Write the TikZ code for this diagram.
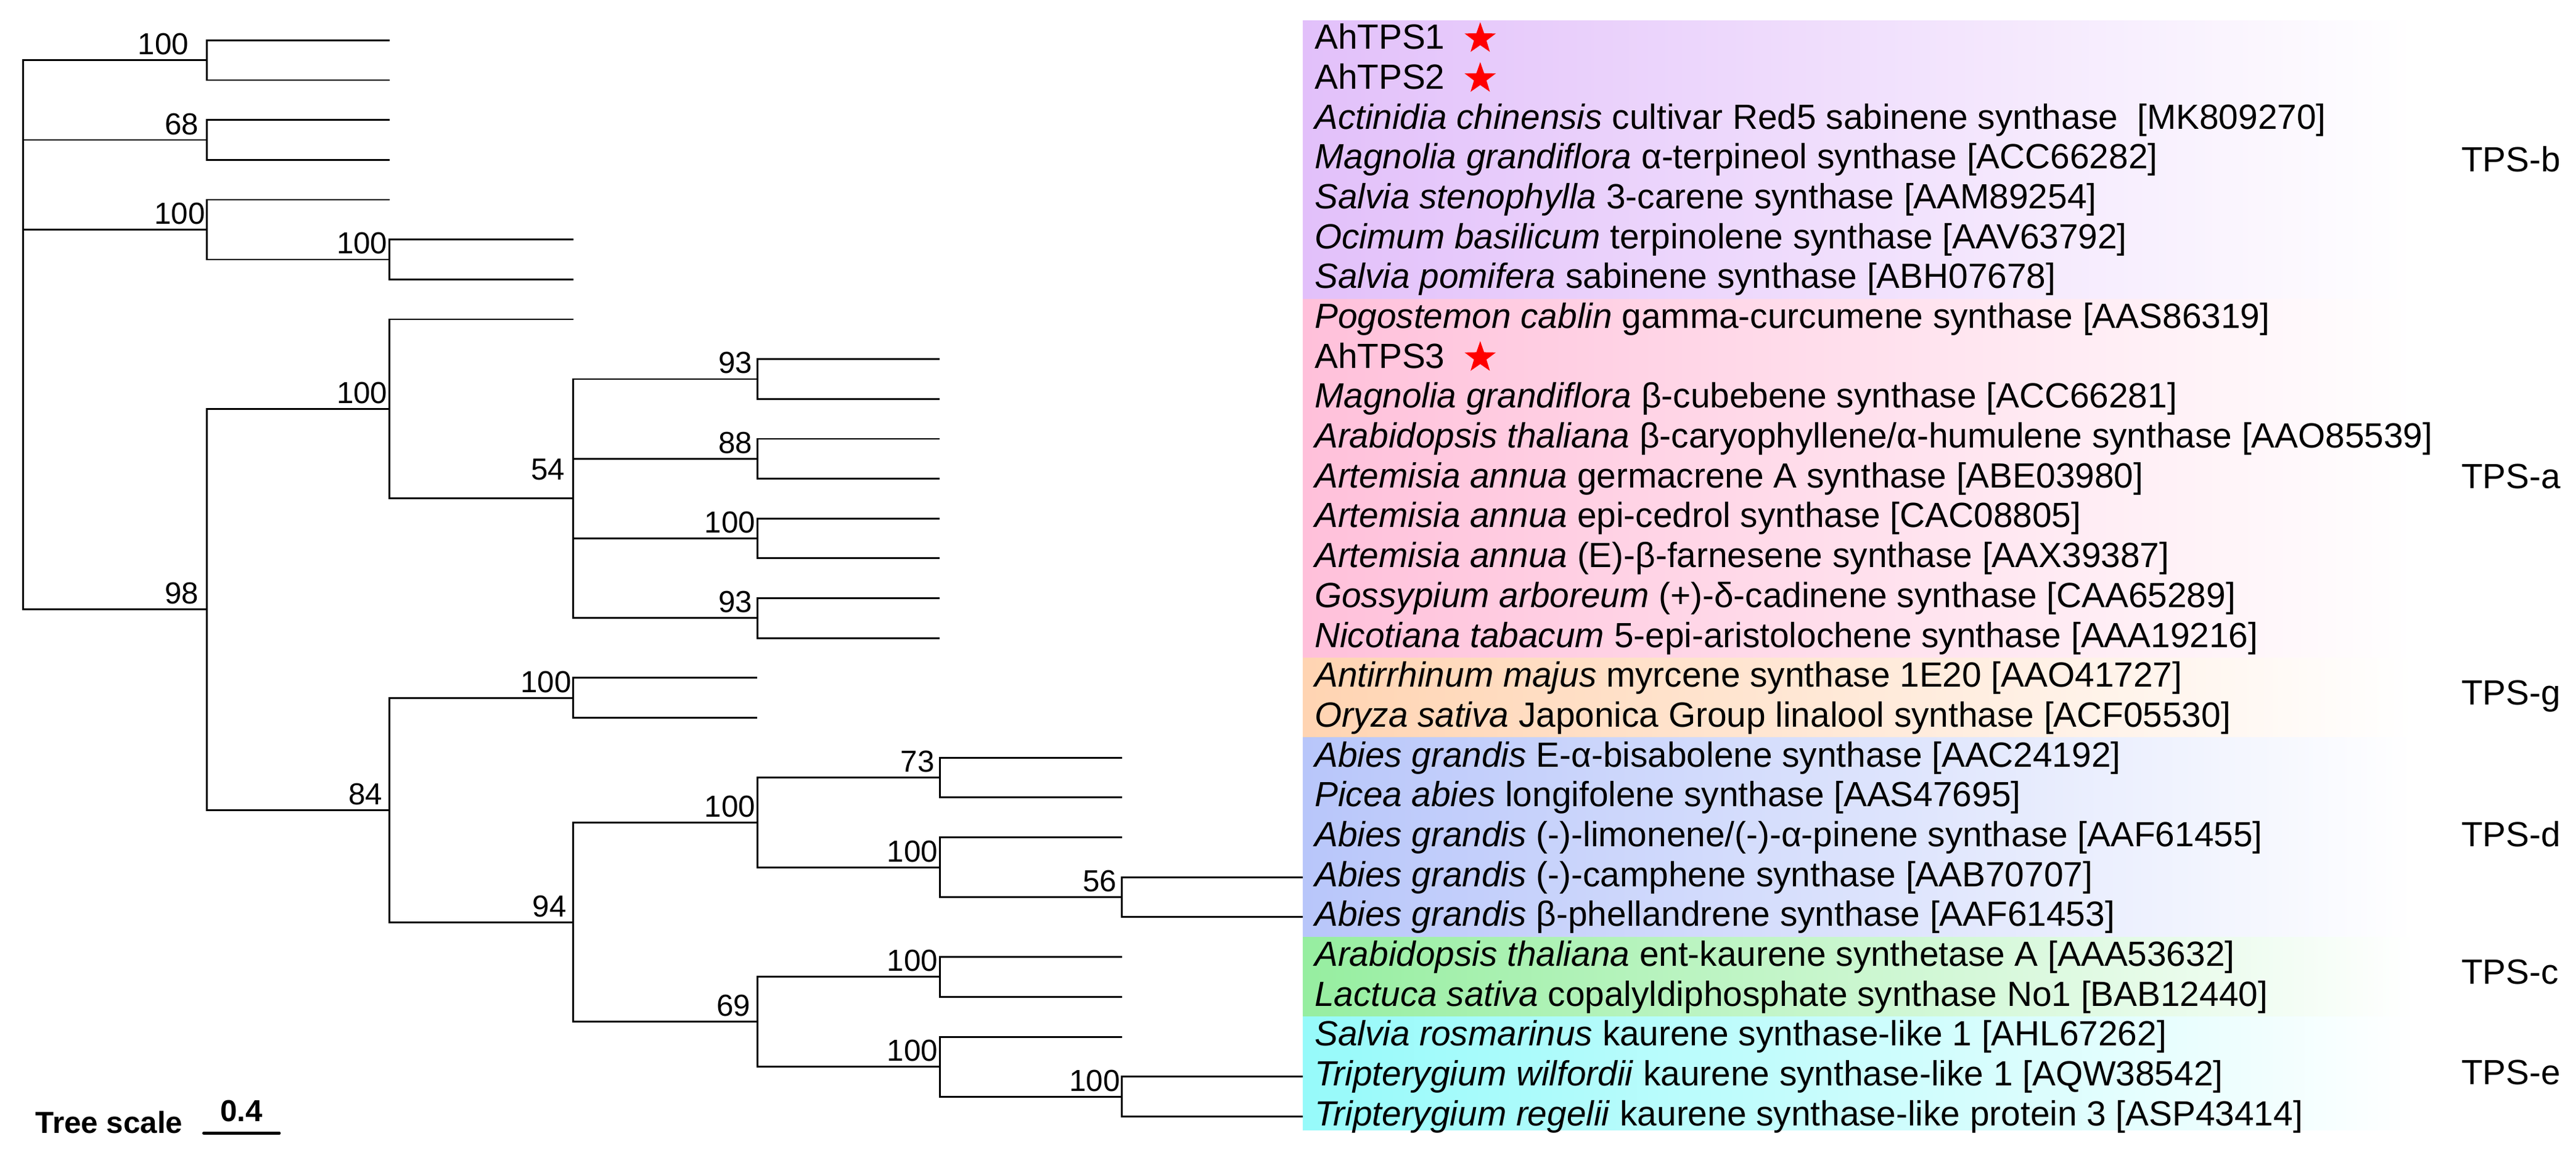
\documentclass[tikz,border=0pt]{standalone}
\usepackage{fontspec}
\setmainfont{Liberation Sans}
\usetikzlibrary{shapes.geometric}
\definecolor{cB}{RGB}{226,192,250}
\definecolor{cA}{RGB}{255,192,218}
\definecolor{cG}{RGB}{255,212,178}
\definecolor{cD}{RGB}{184,198,250}
\definecolor{cC}{RGB}{150,238,160}
\definecolor{cE}{RGB}{150,250,250}
\begin{document}
\begin{tikzpicture}[x=1pt,y=-1pt,
  br/.style={line width=1.1pt},
  leaf/.style={anchor=west,inner sep=0pt,font=\fontsize{21.3}{24}\selectfont,text height=15pt,text depth=4pt},
  bs/.style={anchor=south east,inner sep=0pt,font=\fontsize{18.5}{20}\selectfont,xshift=-1pt,yshift=3pt},
  grp/.style={anchor=west,inner sep=0pt,font=\fontsize{21.3}{24}\selectfont},
  redstar/.style={star,star points=5,star point ratio=2.5,fill=red,draw=none,minimum size=20pt,inner sep=0pt}]
\useasboundingbox (0,0) rectangle (1568,706);
% backgrounds
\shade[left color=cB,right color=white] (793,12.6) rectangle (1470,182.3);
\shade[left color=cA,right color=white] (793,182.3) rectangle (1470,400.7);
\shade[left color=cG,right color=white] (793,400.7) rectangle (1470,449.2);
\shade[left color=cD,right color=white] (793,449.2) rectangle (1470,570.6);
\shade[left color=cC,right color=white] (793,570.6) rectangle (1470,619.1);
\shade[left color=cE,right color=white] (793,619.1) rectangle (1470,688);
% leaf ends
\coordinate (L0) at (237,24.5);
\coordinate (L1) at (237,48.8);
\coordinate (L2) at (237,73.0);
\coordinate (L3) at (237,97.3);
\coordinate (L4) at (237,121.6);
\coordinate (L5) at (349,145.9);
\coordinate (L6) at (349,170.1);
\coordinate (L7) at (349,194.4);
\coordinate (L8) at (572,218.7);
\coordinate (L9) at (572,242.9);
\coordinate (L10) at (572,267.2);
\coordinate (L11) at (572,291.5);
\coordinate (L12) at (572,315.7);
\coordinate (L13) at (572,340.0);
\coordinate (L14) at (572,364.3);
\coordinate (L15) at (572,388.6);
\coordinate (L16) at (461,412.8);
\coordinate (L17) at (461,437.1);
\coordinate (L18) at (683,461.4);
\coordinate (L19) at (683,485.6);
\coordinate (L20) at (683,509.9);
\coordinate (L21) at (793,534.2);
\coordinate (L22) at (793,558.4);
\coordinate (L23) at (683,582.7);
\coordinate (L24) at (683,607.0);
\coordinate (L25) at (683,631.3);
\coordinate (L26) at (793,655.5);
\coordinate (L27) at (793,679.8);
% internal nodes
\coordinate (n01) at (126,36.6);
\coordinate (n23) at (126,85.2);
\coordinate (n56) at (237,158.0);
\coordinate (n456) at (126,139.8);
\coordinate (n89) at (461,230.8);
\coordinate (n1011) at (461,279.3);
\coordinate (n1213) at (461,327.9);
\coordinate (n1415) at (461,376.4);
\coordinate (n54) at (349,303.6);
\coordinate (na) at (237,249.0);
\coordinate (n1617) at (349,425.0);
\coordinate (n1819) at (572,473.5);
\coordinate (n2122) at (683,546.3);
\coordinate (n202122) at (572,528.1);
\coordinate (nd) at (461,500.8);
\coordinate (n2324) at (572,594.8);
\coordinate (n2627) at (683,667.7);
\coordinate (n252627) at (572,649.5);
\coordinate (n69) at (461,622.2);
\coordinate (n94) at (349,561.5);
\coordinate (n84) at (237,493.2);
\coordinate (n98) at (126,371.1);
\coordinate (root) at (14,203.9);
% branches
\draw[br] (root) |- (n01); \draw[br] (root) |- (n23); \draw[br] (root) |- (n456); \draw[br] (root) |- (n98);
\draw[br] (n01) |- (L0); \draw[br] (n01) |- (L1);
\draw[br] (n23) |- (L2); \draw[br] (n23) |- (L3);
\draw[br] (n456) |- (L4); \draw[br] (n456) |- (n56);
\draw[br] (n56) |- (L5); \draw[br] (n56) |- (L6);
\draw[br] (n98) |- (na); \draw[br] (n98) |- (n84);
\draw[br] (na) |- (L7); \draw[br] (na) |- (n54);
\draw[br] (n54) |- (n89); \draw[br] (n54) |- (n1011); \draw[br] (n54) |- (n1213); \draw[br] (n54) |- (n1415);
\draw[br] (n89) |- (L8); \draw[br] (n89) |- (L9);
\draw[br] (n1011) |- (L10); \draw[br] (n1011) |- (L11);
\draw[br] (n1213) |- (L12); \draw[br] (n1213) |- (L13);
\draw[br] (n1415) |- (L14); \draw[br] (n1415) |- (L15);
\draw[br] (n84) |- (n1617); \draw[br] (n84) |- (n94);
\draw[br] (n1617) |- (L16); \draw[br] (n1617) |- (L17);
\draw[br] (n94) |- (nd); \draw[br] (n94) |- (n69);
\draw[br] (nd) |- (n1819); \draw[br] (nd) |- (n202122);
\draw[br] (n1819) |- (L18); \draw[br] (n1819) |- (L19);
\draw[br] (n202122) |- (L20); \draw[br] (n202122) |- (n2122);
\draw[br] (n2122) |- (L21); \draw[br] (n2122) |- (L22);
\draw[br] (n69) |- (n2324); \draw[br] (n69) |- (n252627);
\draw[br] (n2324) |- (L23); \draw[br] (n2324) |- (L24);
\draw[br] (n252627) |- (L25); \draw[br] (n252627) |- (n2627);
\draw[br] (n2627) |- (L26); \draw[br] (n2627) |- (L27);
% bootstrap
\node[bs,xshift=-10pt] (b1) at (n01) {100};
\node[bs,xshift=-4pt] (b2) at (n23) {68};
\node[bs] (b3) at (n456) {100};
\node[bs] (b4) at (n56) {100};
\node[bs] (b5) at (na) {100};
\node[bs,xshift=-4pt,yshift=8pt] (b6) at (n54) {54};
\node[bs,xshift=-2pt] (b7) at (n89) {93};
\node[bs,xshift=-2pt] (b8) at (n1011) {88};
\node[bs] (b9) at (n1213) {100};
\node[bs,xshift=-2pt] (b10) at (n1415) {93};
\node[bs,xshift=-4pt] (b11) at (n98) {98};
\node[bs] (b12) at (n1617) {100};
\node[bs,xshift=-3pt] (b13) at (n84) {84};
\node[bs,xshift=-3pt] (b14) at (n94) {94};
\node[bs] (b15) at (nd) {100};
\node[bs,xshift=-2pt] (b16) at (n1819) {73};
\node[bs] (b17) at (n202122) {100};
\node[bs,xshift=-2pt] (b18) at (n2122) {56};
\node[bs,xshift=-3pt] (b19) at (n69) {69};
\node[bs] (b20) at (n2324) {100};
\node[bs] (b21) at (n252627) {100};
\node[bs] (b22) at (n2627) {100};
% leaf labels
\node[leaf] (t0) at (800,24.5) {AhTPS1};
\node[leaf] (t1) at (800,48.8) {AhTPS2};
\node[leaf] (t2) at (800,73.0) {\textit{Actinidia chinensis} cultivar Red5 sabinene synthase\ \ [MK809270]};
\node[leaf] (t3) at (800,97.3) {\textit{Magnolia grandiflora} α-terpineol synthase [ACC66282]};
\node[leaf] (t4) at (800,121.6) {\textit{Salvia stenophylla} 3-carene synthase [AAM89254]};
\node[leaf] (t5) at (800,145.9) {\textit{Ocimum basilicum} terpinolene synthase [AAV63792]};
\node[leaf] (t6) at (800,170.1) {\textit{Salvia pomifera} sabinene synthase [ABH07678]};
\node[leaf] (t7) at (800,194.4) {\textit{Pogostemon cablin} gamma-curcumene synthase [AAS86319]};
\node[leaf] (t8) at (800,218.7) {AhTPS3};
\node[leaf] (t9) at (800,242.9) {\textit{Magnolia grandiflora} β-cubebene synthase [ACC66281]};
\node[leaf] (t10) at (800,267.2) {\textit{Arabidopsis thaliana} β-caryophyllene/α-humulene synthase [AAO85539]};
\node[leaf] (t11) at (800,291.5) {\textit{Artemisia annua} germacrene A synthase [ABE03980]};
\node[leaf] (t12) at (800,315.7) {\textit{Artemisia annua} epi-cedrol synthase [CAC08805]};
\node[leaf] (t13) at (800,340.0) {\textit{Artemisia annua} (E)-β-farnesene synthase [AAX39387]};
\node[leaf] (t14) at (800,364.3) {\textit{Gossypium arboreum} (+)-δ-cadinene synthase [CAA65289]};
\node[leaf] (t15) at (800,388.6) {\textit{Nicotiana tabacum} 5-epi-aristolochene synthase [AAA19216]};
\node[leaf] (t16) at (800,412.8) {\textit{Antirrhinum majus} myrcene synthase 1E20 [AAO41727]};
\node[leaf] (t17) at (800,437.1) {\textit{Oryza sativa} Japonica Group linalool synthase [ACF05530]};
\node[leaf] (t18) at (800,461.4) {\textit{Abies grandis} E-α-bisabolene synthase [AAC24192]};
\node[leaf] (t19) at (800,485.6) {\textit{Picea abies} longifolene synthase [AAS47695]};
\node[leaf] (t20) at (800,509.9) {\textit{Abies grandis} (-)-limonene/(-)-α-pinene synthase [AAF61455]};
\node[leaf] (t21) at (800,534.2) {\textit{Abies grandis} (-)-camphene synthase [AAB70707]};
\node[leaf] (t22) at (800,558.4) {\textit{Abies grandis} β-phellandrene synthase [AAF61453]};
\node[leaf] (t23) at (800,582.7) {\textit{Arabidopsis thaliana} ent-kaurene synthetase A [AAA53632]};
\node[leaf] (t24) at (800,607.0) {\textit{Lactuca sativa} copalyldiphosphate synthase No1 [BAB12440]};
\node[leaf] (t25) at (800,631.3) {\textit{Salvia rosmarinus} kaurene synthase-like 1 [AHL67262]};
\node[leaf] (t26) at (800,655.5) {\textit{Tripterygium wilfordii} kaurene synthase-like 1 [AQW38542]};
\node[leaf] (t27) at (800,679.8) {\textit{Tripterygium regelii} kaurene synthase-like protein 3 [ASP43414]};
% stars
\node[redstar] (s1) at (901,23.5) {};
\node[redstar] (s2) at (901,47.8) {};
\node[redstar] (s3) at (901,217.7) {};
% group labels
\node[grp] (gb) at (1498,97) {TPS-b};
\node[grp] (ga) at (1498,290) {TPS-a};
\node[grp] (gg) at (1498,424) {TPS-g};
\node[grp] (gd) at (1498,508) {TPS-d};
\node[grp] (gc) at (1498,592) {TPS-c};
\node[grp] (ge) at (1498,653) {TPS-e};
% scale
\node[anchor=base west,inner sep=0pt,font=\bfseries\fontsize{18.5}{20}\selectfont] (ts) at (21.5,690) {Tree scale};
\coordinate (sa) at (124,690);
\coordinate (sb) at (170,690);
\draw[line width=1.8pt,line cap=round] (sa) -- (sb);
\node[anchor=base,inner sep=0pt,font=\bfseries\fontsize{18.5}{20}\selectfont] (tsv) at (147,683) {0.4};
\end{tikzpicture}
\end{document}
